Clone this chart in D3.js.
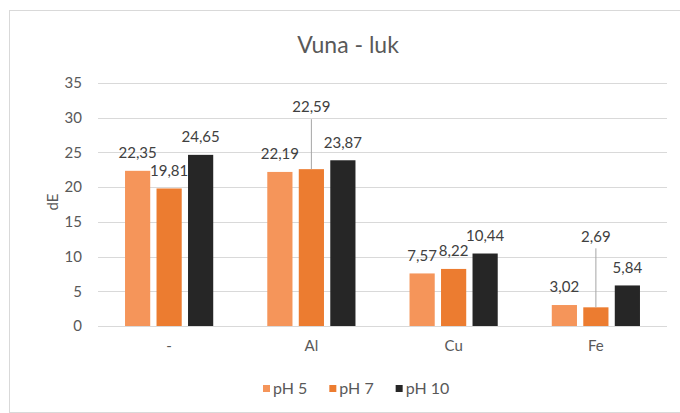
<!DOCTYPE html>
<html>
<head>
<meta charset="utf-8">
<script src="https://cdn.jsdelivr.net/npm/d3@7"></script>
<style>
  html, body { margin: 0; padding: 0; background: #ffffff; overflow: hidden; }
  svg { display: block; font-family: Lato, "Open Sans", sans-serif; }
</style>
</head>
<body>
<svg id="chart" width="680" height="413"></svg>
<script>
// Colour difference (dE) per treatment and pH
const categories = ["-", "Al", "Cu", "Fe"];
const seriesNames = ["pH 5", "pH 7", "pH 10"];
const ph5 = [22.35, 22.19, 7.57, 3.02];
const ph7 = [19.81, 22.59, 8.22, 2.69];
const ph10 = [24.65, 23.87, 10.44, 5.84];
const yTicks = [0, 5, 10, 15, 20, 25, 30, 35];
const title = "Vuna - luk";
const yTitle = "dE";

const seriesValues = [ph5, ph7, ph10];
const colors = ["#F5955A", "#EC7C30", "#262626"];

// labels pulled up above the bars with a leader line (pixels above bar top)
const liftedLabels = { "Al|pH 7": 62, "Fe|pH 7": 71 };

const svg = d3.select("#chart");
const plot = { left: 98, right: 667, top: 83, bottom: 326 };

// chart frame (runs off the right edge)
svg.append("rect")
  .attr("x", 9.5).attr("y", 10.5)
  .attr("width", 720).attr("height", 402)
  .attr("fill", "none").attr("stroke", "#d9d9d9").attr("stroke-width", 1);

const y = d3.scaleLinear().domain([0, 35]).range([plot.bottom, plot.top]);
const x0 = d3.scaleBand().domain(categories)
  .range([plot.left, plot.right]).paddingInner(0.38).paddingOuter(0.19);
const x1 = d3.scaleBand().domain(seriesNames)
  .range([0, x0.bandwidth()]).paddingInner(0.2);

// gridlines
svg.append("g").selectAll("line").data(yTicks).join("line")
  .attr("x1", plot.left).attr("x2", plot.right)
  .attr("y1", d => Math.round(y(d)) + 0.5).attr("y2", d => Math.round(y(d)) + 0.5)
  .attr("stroke", "#d9d9d9").attr("stroke-width", 1);

// y axis labels
const yAxis = d3.axisLeft(y).tickValues(yTicks).tickSize(0).tickPadding(0)
  .tickFormat(d => String(d));
svg.append("g").attr("transform", `translate(${82},0)`).call(yAxis)
  .call(g => g.select(".domain").remove())
  .selectAll("text")
  .attr("fill", "#595959").style("font-size", "15px").style("font-family", "Lato, sans-serif");

// x axis labels
const xAxis = d3.axisBottom(x0).tickSize(0).tickPadding(0);
svg.append("g").attr("transform", `translate(0,${340})`).call(xAxis)
  .call(g => g.select(".domain").remove())
  .selectAll("text")
  .attr("fill", "#595959").style("font-size", "15px").style("font-family", "Lato, sans-serif");

// bars
const rows = [];
categories.forEach((c, i) => {
  seriesNames.forEach((s, j) => {
    rows.push({ cat: c, series: s, value: seriesValues[j][i], color: colors[j] });
  });
});

svg.append("g").selectAll("rect").data(rows).join("rect")
  .attr("x", d => x0(d.cat) + x1(d.series))
  .attr("y", d => y(d.value))
  .attr("width", x1.bandwidth())
  .attr("height", d => y(0) - y(d.value))
  .attr("fill", d => d.color);

// data labels
const fmt = v => v.toFixed(2).replace(".", ",");
const labels = svg.append("g");
rows.forEach(d => {
  const cx = x0(d.cat) + x1(d.series) + x1.bandwidth() / 2;
  const top = y(d.value);
  const key = d.cat + "|" + d.series;
  const lift = liftedLabels[key] || 18;
  const cy = top - lift;
  if (liftedLabels[key]) {
    labels.append("line")
      .attr("x1", cx).attr("x2", cx)
      .attr("y1", cy + 12).attr("y2", top)
      .attr("stroke", "#a6a6a6").attr("stroke-width", 1);
  }
  labels.append("text")
    .attr("x", cx).attr("y", cy)
    .attr("dy", "0.35em")
    .attr("text-anchor", "middle")
    .attr("fill", "#404040")
    .style("font-size", "15px")
    .text(fmt(d.value));
});

// title
svg.append("text")
  .attr("x", 348).attr("y", 53)
  .attr("text-anchor", "middle")
  .attr("fill", "#595959")
  .style("font-size", "23px")
  .text(title);

// y axis title
svg.append("text")
  .attr("transform", `translate(58,202) rotate(-90)`)
  .attr("text-anchor", "middle")
  .attr("fill", "#595959")
  .style("font-size", "15px")
  .text(yTitle);

// legend
const legend = svg.append("g").attr("transform", "translate(263,0)");
let lx = 0;
seriesNames.forEach((s, j) => {
  legend.append("rect")
    .attr("x", lx).attr("y", 385)
    .attr("width", 7).attr("height", 7)
    .attr("fill", colors[j]);
  const t = legend.append("text")
    .attr("x", lx + 10).attr("y", 388.5)
    .attr("dy", "0.35em")
    .attr("fill", "#595959")
    .style("font-size", "16px")
    .text(s);
  lx += 10 + t.node().getBBox().width + 22;
});
</script>
</body>
</html>
